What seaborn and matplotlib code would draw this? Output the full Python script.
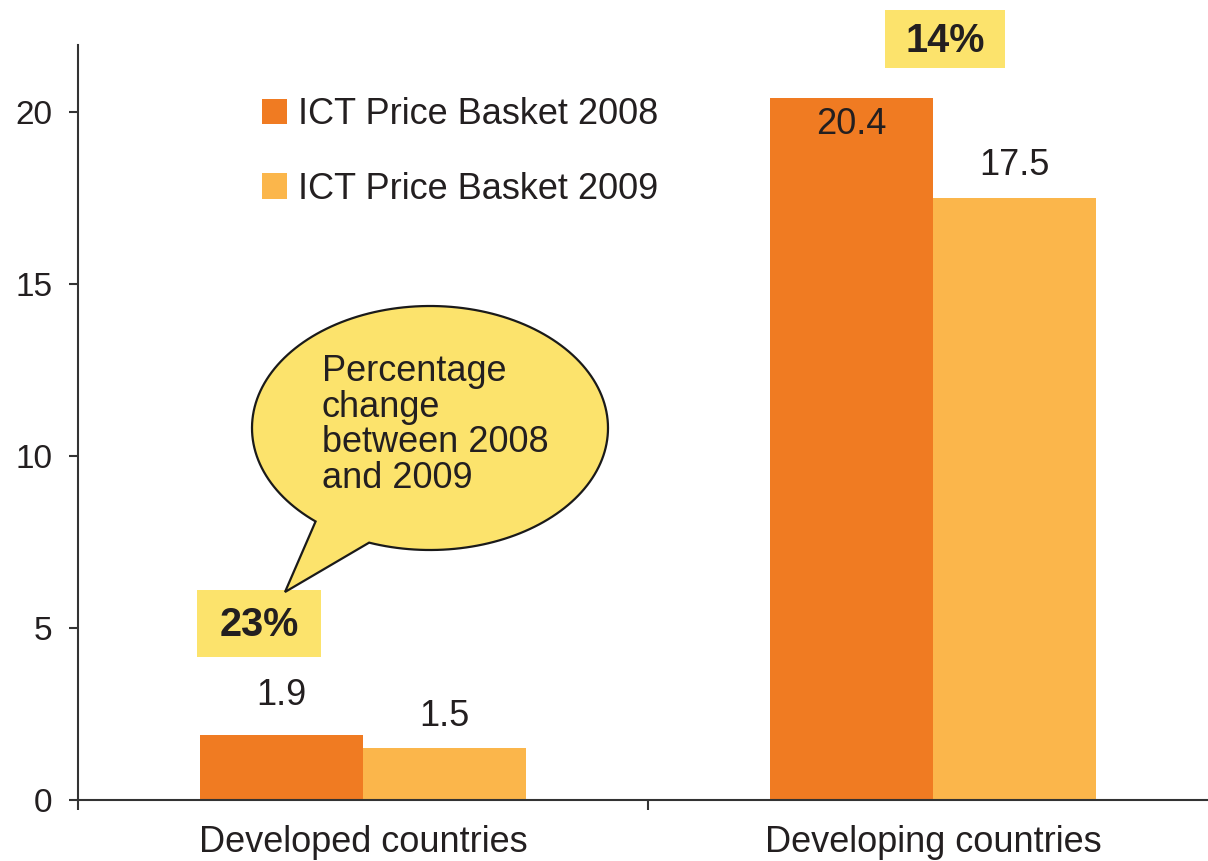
import numpy as np
import pandas as pd
import matplotlib.pyplot as plt
from matplotlib.patches import Polygon, Rectangle
import seaborn as sns

# Chart data
groups = ['Developed countries', 'Developing countries']
series = ['ICT Price Basket 2008', 'ICT Price Basket 2009']
basket_2008 = [1.9, 20.4]
basket_2009 = [1.5, 17.5]
pct_change = ['23%', '14%']
yticks = [0, 5, 10, 15, 20]
bubble_text = 'Percentage\nchange\nbetween 2008\nand 2009'

colors = ['#F07B22', '#FBB64B']
yellow = '#FCE36C'
ink = '#231F20'

df = pd.DataFrame({
    'group': groups * 2,
    'series': [series[0]] * 2 + [series[1]] * 2,
    'value': basket_2008 + basket_2009,
})

sns.set_style('white')
plt.rcParams['font.family'] = ['Liberation Sans', 'DejaVu Sans']

W, H = 1208, 861
fig = plt.figure(figsize=(W / 100, H / 100), dpi=100)
ax = fig.add_axes([78 / W, 61 / H, 1 - 78 / W, (800 - 45) / H])

sns.barplot(data=df, x='group', y='value', hue='series', palette=colors,
            width=0.572, saturation=1, errorbar=None, linewidth=0, ax=ax)

ax.set_xlabel('')
ax.set_ylabel('')
sns.despine(ax=ax)
for s in ['left', 'bottom']:
    ax.spines[s].set_color('#333333')
    ax.spines[s].set_linewidth(1.5)

ax.set_yticks(yticks)
ax.tick_params(axis='y', left=True, length=6.5, width=1.5, color='#333333',
               pad=12, labelsize=24, labelcolor=ink)
ax.set_xticks([0, 1])
ax.set_xticklabels(groups)
ax.set_xticks([-0.5, 0.5, 1.5], minor=True)
ax.tick_params(axis='x', which='major', length=0, pad=18, labelsize=26,
               labelcolor=ink)
ax.tick_params(axis='x', which='minor', bottom=True, length=7, width=1.5,
               color='#333333')
ax.set_xlim(-0.5, 1.4825)
ax.set_ylim(0, 21.95)

# value labels (pixel offsets from bar top)
offsets = [[39, -26], [32, 33]]
for i, cont in enumerate(ax.containers):
    for j, bar in enumerate(cont):
        x = bar.get_x() + bar.get_width() / 2
        h = bar.get_height()
        ax.annotate(f'{h:.1f}', xy=(x, h), xytext=(0, offsets[i][j]),
                    textcoords='offset pixels', ha='center', va='center',
                    fontsize=26, color=ink)

# legend
handles, labels = ax.get_legend_handles_labels()
ax.legend(handles, labels, loc='upper left',
          bbox_to_anchor=(262 / W, 1 - 97 / H), bbox_transform=fig.transFigure,
          frameon=False, fontsize=26, labelcolor=ink, handlelength=0.7,
          handleheight=0.7, handletextpad=0.3, labelspacing=1.1,
          borderpad=0, borderaxespad=0)

# percentage boxes
boxes = [(197, 590, 124, 67), (885, 10, 120, 58)]
for (bx, by, bw, bh), txt in zip(boxes, pct_change):
    fig.patches.append(Rectangle((bx / W, 1 - (by + bh) / H), bw / W, bh / H,
                                 transform=fig.transFigure, facecolor=yellow,
                                 edgecolor='none', zorder=5))
    fig.text((bx + bw / 2) / W, 1 - (by + bh / 2 + 2) / H, txt, ha='center',
             va='center', fontsize=28.5, fontweight='bold', color=ink, zorder=6)

# speech bubble
cx, cy, a, b = 430, 428, 178, 122
t1 = np.linspace(0, np.radians(110), 60)
t2 = np.linspace(np.radians(130), 2 * np.pi, 120)
pts = [(cx + a * np.cos(t), cy + b * np.sin(t)) for t in t1]
pts.append((285, 592))
pts += [(cx + a * np.cos(t), cy + b * np.sin(t)) for t in t2]
pts = [(px / W, 1 - py / H) for px, py in pts]
fig.patches.append(Polygon(pts, closed=True, transform=fig.transFigure,
                           facecolor=yellow, edgecolor='#1a1a1a',
                           linewidth=1.6, zorder=7))
fig.text(322 / W, 1 - 354 / H, bubble_text, ha='left', va='top', fontsize=26,
         color=ink, linespacing=1.02, zorder=8)

fig.savefig('out.png', dpi=100)
